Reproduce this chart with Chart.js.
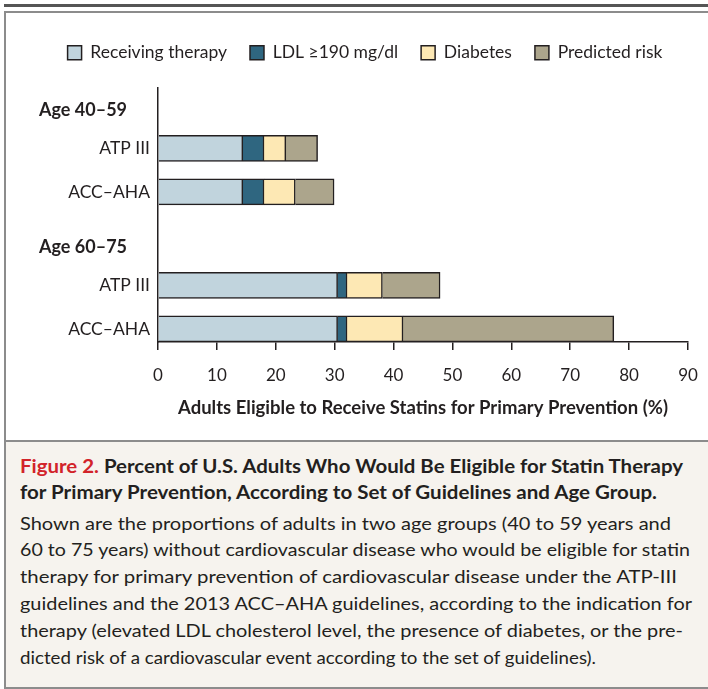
<!DOCTYPE html>
<html>
<head>
<meta charset="utf-8">
<script src="https://cdn.jsdelivr.net/npm/chart.js@4.4.0/dist/chart.umd.min.js"></script>
<style>
  body { margin: 0; width: 708px; height: 689px; position: relative; overflow: hidden; background: #fff;
         font-family: Lato, sans-serif; color: #231f20; }
  #topRule { position: absolute; left: 4px; right: 0; top: 4px; height: 3px; background: #555; }
  #frame { position: absolute; left: 4px; top: 11px; width: 710px; height: 674px;
           border: 2px solid #8c8c8c; border-right: none; }
  #caption { position: absolute; left: 6px; right: 0; top: 440px; height: 245px;
             background: #f6f3ee; border-top: 2px solid #8c8c8c; }
  .line { position: absolute; left: 20px; white-space: nowrap; font-size: 18px; line-height: 26px;
          height: 26px; transform-origin: 0 50%; }
  .title { font-weight: 700; }
  .fig { color: #d2232a; }
  #chartBox { position: absolute; left: 0; top: 0; width: 708px; height: 440px; z-index: 2; }
</style>
</head>
<body>
<div id="topRule"></div>
<div id="frame"></div>
<div id="caption"></div>
<div class="line title" style="top:453px" data-w="663"><span class="fig">Figure 2.</span> Percent of U.S. Adults Who Would Be Eligible for Statin Therapy</div>
<div class="line title" style="top:479px" data-w="637">for Primary Prevention, According to Set of Guidelines and Age Group.</div>
<div class="line" style="top:510px" data-w="651">Shown are the proportions of adults in two age groups (40 to 59 years and</div>
<div class="line" style="top:536px" data-w="670">60 to 75 years) without cardiovascular disease who would be eligible for statin</div>
<div class="line" style="top:563px" data-w="657">therapy for primary prevention of cardiovascular disease under the ATP-III</div>
<div class="line" style="top:590px" data-w="672">guidelines and the 2013 ACC–AHA guidelines, according to the indication for</div>
<div class="line" style="top:617px" data-w="663">therapy (elevated LDL cholesterol level, the presence of diabetes, or the pre-</div>
<div class="line" style="top:644px" data-w="576">dicted risk of a cardiovascular event according to the set of guidelines).</div>
<div id="chartBox"><canvas id="statinChart" width="708" height="440"></canvas></div>

<script>
// 数据：各指南下符合他汀治疗条件的成人比例 (%)
const rowLabels = ['ATP III', 'ACC–AHA', 'ATP III', 'ACC–AHA'];
const groupLabels = ['Age 40–59', 'Age 60–75'];
const seriesNames = ['Receiving therapy', 'LDL ≥190 mg/dl', 'Diabetes', 'Predicted risk'];
const receiving = [14.4, 14.4, 30.5, 30.5];
const ldl = [3.6, 3.6, 1.6, 1.6];
const diabetes = [3.7, 5.3, 6.0, 9.5];
const predicted = [5.4, 6.6, 9.8, 35.8];
const xTicks = [0, 10, 20, 30, 40, 50, 60, 70, 80, 90];

// 布局：行和组标题在 y 轴上的位置（行单位，自上而下）
const rowSlots = [1.4, 2.4, 4.55, 5.55];
const groupSlots = [0.53, 3.68];
const colors = ['#c1d4dd', '#2f6680', '#fde8b4', '#aca58c'];
const ink = '#231f20';

// 把说明文字每行拉伸到原图宽度
function fitLines() {
    document.querySelectorAll('.line').forEach(el => {
        const w = el.getBoundingClientRect().width;
        el.style.transform = 'scaleX(' + (parseFloat(el.dataset.w) / w) + ')';
    });
}

// 组标题 (Age 40–59 / Age 60–75)
const groupHeaders = {
    id: 'groupHeaders',
    afterDraw(chart) {
        const ctx = chart.ctx;
        const y = chart.scales.y;
        ctx.save();
        ctx.font = 'bold 18px Lato';
        ctx.fillStyle = ink;
        ctx.textAlign = 'left';
        ctx.textBaseline = 'middle';
        groupLabels.forEach((t, i) => ctx.fillText(t, 39, y.getPixelForValue(groupSlots[i])));
        ctx.restore();
    }
};

// 图例下方留白
const legendSpace = {
    id: 'legendSpace',
    beforeInit(chart) {
        const fit = chart.legend.fit;
        chart.legend.fit = function () {
            fit.call(this);
            this.height += 16;
        };
    }
};

function draw() {
    fitLines();
    Chart.defaults.font.family = 'Lato';
    Chart.defaults.color = ink;

    const series = [receiving, ldl, diabetes, predicted];
    const ctx = document.getElementById('statinChart').getContext('2d');
    new Chart(ctx, {
        type: 'bar',
        data: {
            datasets: series.map((vals, s) => ({
                label: seriesNames[s],
                data: vals.map((v, i) => ({ x: v, y: rowSlots[i] })),
                backgroundColor: colors[s],
                borderColor: ink,
                borderWidth: 1.5,
                barThickness: 26
            }))
        },
        options: {
            indexAxis: 'y',
            responsive: false,
            animation: false,
            layout: { padding: { left: 42, right: 20, top: 21, bottom: 0 } },
            plugins: {
                legend: {
                    position: 'top',
                    labels: { boxWidth: 14, boxHeight: 14, padding: 23, font: { size: 17.5 }, color: ink }
                },
                tooltip: { enabled: false }
            },
            scales: {
                x: {
                    type: 'linear',
                    stacked: true,
                    min: 0,
                    max: 90,
                    afterBuildTicks: s => { s.ticks = xTicks.map(v => ({ value: v })); },
                    ticks: { font: { size: 17 }, color: ink, padding: 15, maxRotation: 0 },
                    grid: { display: true, drawOnChartArea: false, drawTicks: true, tickLength: 8, color: ink, lineWidth: 1.5 },
                    border: { display: true, color: ink, width: 1.5 },
                    title: {
                        display: true,
                        text: 'Adults Eligible to Receive Statins for Primary Prevention (%)',
                        font: { size: 18.5, weight: 'bold' },
                        color: ink,
                        padding: { top: 0, bottom: 21 }
                    },
                    afterFit: s => {
                        s.height = 98;
                        s.paddingLeft = 0;
                        s.paddingRight = 0;
                    }
                },
                y: {
                    type: 'linear',
                    stacked: true,
                    reverse: true,
                    offset: false,
                    min: 0,
                    max: 5.85,
                    afterBuildTicks: s => { s.ticks = rowSlots.map(v => ({ value: v })); },
                    ticks: { autoSkip: false, font: { size: 17.5 }, color: ink, padding: 8,
                             callback: (v, i) => rowLabels[i] },
                    grid: { display: false, drawTicks: false },
                    border: { display: true, color: ink, width: 1.5 },
                    afterFit: s => { s.width = 116; }
                }
            }
        },
        plugins: [groupHeaders, legendSpace]
    });
}

Promise.all([
    document.fonts.load('16px Lato'),
    document.fonts.load('bold 16px Lato'),
    document.fonts.load('18px Lato')
]).then(draw, draw);
</script>
</body>
</html>
